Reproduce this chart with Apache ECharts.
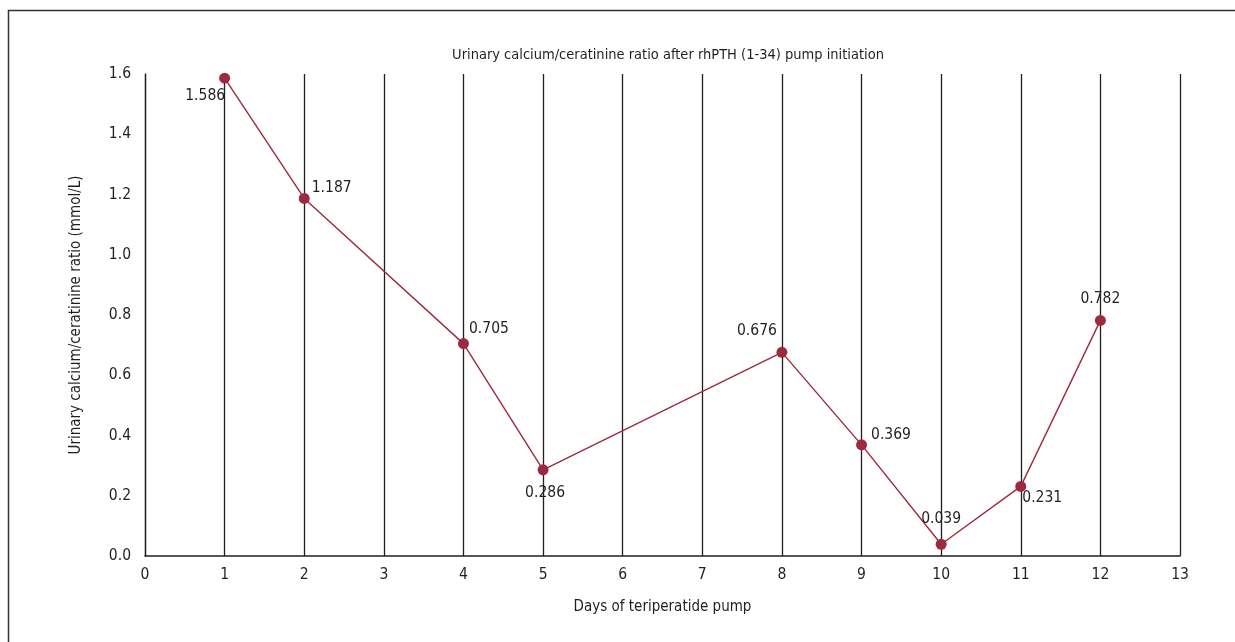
<!DOCTYPE html>
<html><head><meta charset="utf-8">
<script src="https://cdn.jsdelivr.net/npm/echarts@6/dist/echarts.min.js"></script>
<style>html,body{margin:0;padding:0;background:#fff}#c{width:1235px;height:642px}</style>
</head><body><div id="c"></div>
<script>
const days = [1, 2, 4, 5, 8, 9, 10, 11, 12];
const ratios = [1.586, 1.187, 0.705, 0.286, 0.676, 0.369, 0.039, 0.231, 0.782];
const labelPos = ['left', 'right', 'right', 'bottom', 'top', 'right', 'top', 'right', 'top'];
const labelOffset = [[12, 18], [-4, -10], [-6, -15], [2, 4], [-25, -2], [-2, -10], [0, -6], [-10, 12], [0, -2]];
const title = 'Urinary calcium/ceratinine ratio after rhPTH (1-34) pump initiation';
const xName = 'Days of teriperatide pump';
const yName = 'Urinary calcium/ceratinine ratio (mmol/L)';
const FONT = '"DejaVu Sans Condensed", "Liberation Sans Narrow", "Noto Sans", sans-serif';
const TXT = '#231f20';
const chart = echarts.init(document.getElementById('c'));
chart.setOption({
  animation: false,
  textStyle: {fontFamily: FONT},
  title: {text: title, left: 663, top: 43, textAlign: 'center',
    textStyle: {fontFamily: FONT, fontSize: 14.5, fontWeight: 'normal', color: TXT}},
  graphic: [
    {type: 'polyline', shape: {points: [[8.5, 642], [8.5, 10.5], [1235, 10.5]]},
     style: {stroke: '#333', lineWidth: 1.5, fill: null}}
  ],
  grid: {left: 145, right: 55, top: 74, bottom: 86},
  xAxis: {
    type: 'value', min: 0, max: 13, interval: 1,
    name: xName, nameLocation: 'middle', nameGap: 44,
    nameTextStyle: {fontFamily: FONT, fontSize: 15, color: TXT},
    axisLine: {show: true, lineStyle: {color: '#231f20', width: 1.5}},
    axisTick: {show: false},
    axisLabel: {fontFamily: FONT, fontSize: 15.5, color: TXT, margin: 11},
    splitLine: {show: true, lineStyle: {color: '#231f20', width: 1.3}}
  },
  yAxis: {
    type: 'value', min: 0, max: 1.6, interval: 0.2,
    name: yName, nameLocation: 'middle', nameGap: 61, nameRotate: 90,
    nameTextStyle: {fontFamily: FONT, fontSize: 15, color: TXT},
    axisLine: {show: true, lineStyle: {color: '#231f20', width: 1.3}},
    axisTick: {show: false},
    axisLabel: {fontFamily: FONT, fontSize: 15.5, color: TXT, margin: 14,
      formatter: v => v.toFixed(1)},
    splitLine: {show: false}
  },
  series: [{
    type: 'line',
    data: days.map((d, i) => ({
      value: [d, ratios[i]],
      label: {position: labelPos[i], offset: labelOffset[i]}
    })),
    symbol: 'circle', symbolSize: 11,
    lineStyle: {color: '#9e2a3e', width: 1.4},
    itemStyle: {color: '#9e2a3e'},
    label: {show: true, fontFamily: FONT, fontSize: 15.5, color: TXT, distance: 6,
      formatter: p => p.value[1].toFixed(3)}
  }]
});
</script></body></html>
